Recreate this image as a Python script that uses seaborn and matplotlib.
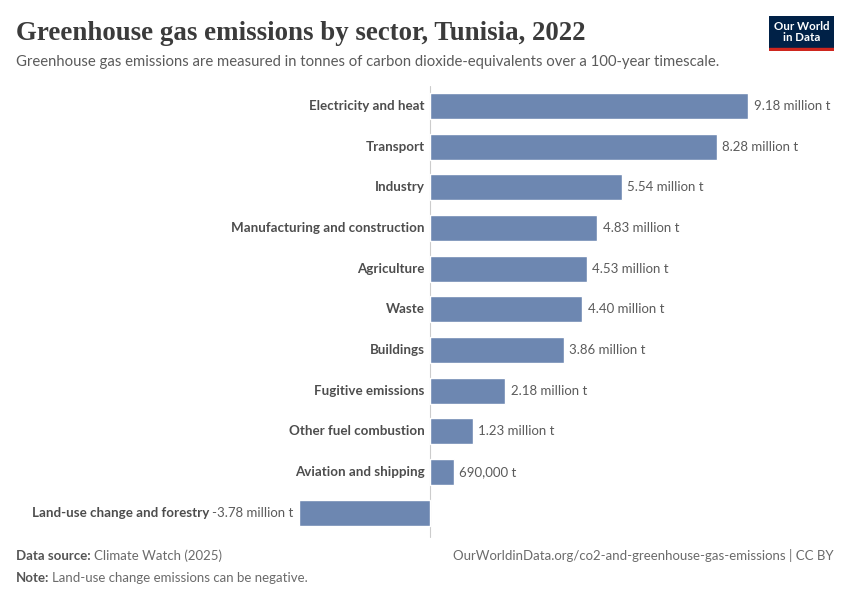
import matplotlib
matplotlib.use("Agg")
import matplotlib.pyplot as plt
import matplotlib.patches as mpatches
import seaborn as sns
import pandas as pd

# data (million tonnes CO2e)
sectors = [
    "Electricity and heat", "Transport", "Industry",
    "Manufacturing and construction", "Agriculture", "Waste",
    "Buildings", "Fugitive emissions", "Other fuel combustion",
    "Aviation and shipping", "Land-use change and forestry",
]
emissions = [9.18, 8.28, 5.54, 4.83, 4.53, 4.40, 3.86, 2.18, 1.23, 0.69, -3.78]
value_labels = [
    "9.18 million t", "8.28 million t", "5.54 million t", "4.83 million t",
    "4.53 million t", "4.40 million t", "3.86 million t", "2.18 million t",
    "1.23 million t", "690,000 t", "-3.78 million t",
]

df = pd.DataFrame({"sector": sectors, "value": emissions})

sns.set_style("white")
plt.rcParams["font.family"] = ["Lato", "DejaVu Sans"]

W, H = 850, 600
fig = plt.figure(figsize=(W / 100, H / 100), dpi=100)
# axes placed in pixel coordinates: zero at x=430, 9.18 at x=748
left_px, right_px = 299, 748
top_px, bot_px = 85.5, 533
ax = fig.add_axes([left_px / W, 1 - bot_px / H, (right_px - left_px) / W, (bot_px - top_px) / H])

bar_color = "#6d87b1"
sns.barplot(data=df, y="sector", x="value", orient="h", color=bar_color,
            width=0.64, ax=ax, saturation=1)
ax.set_xlim(min(emissions), max(emissions))
ax.set_ylim(len(sectors) - 0.5, -0.5)
ax.axis("off")
ax.axvline(0, ymin=-0.01, ymax=1.0, color="#cccccc", lw=0.8, zorder=0, clip_on=False)

label_color = "#4d4d4d"
value_color = "#5b5b5b"
fig.canvas.draw()
renderer = fig.canvas.get_renderer()
for i, (name, v, lab) in enumerate(zip(sectors, emissions, value_labels)):
    if v >= 0:
        ax.annotate(lab, (v, i), xytext=(4, 0), textcoords="offset points",
                    ha="left", va="center", fontsize=9.5, color=value_color)
        ax.annotate(name, (0, i), xytext=(-4, 0), textcoords="offset points",
                    ha="right", va="center", fontsize=9.6, fontweight="bold",
                    color=label_color)
    else:
        t = ax.annotate(lab, (v, i), xytext=(-4, 0), textcoords="offset points",
                        ha="right", va="center", fontsize=9.5, color=value_color,
                        annotation_clip=False)
        bb = t.get_window_extent(renderer)
        ax.annotate(name, (bb.x0 - 3, (bb.y0 + bb.y1) / 2), xycoords="figure pixels",
                    ha="right", va="center", fontsize=9.6, fontweight="bold",
                    color=label_color, annotation_clip=False)

# title and subtitle
fig.text(16 / W, 1 - 40 / H, "Greenhouse gas emissions by sector, Tunisia, 2022",
         fontsize=19.4, family=["Liberation Serif", "DejaVu Serif"],
         fontweight="bold", color="#3b3b3b", va="baseline")
fig.text(16 / W, 1 - 66 / H,
         "Greenhouse gas emissions are measured in tonnes of carbon dioxide-equivalents over a 100-year timescale.",
         fontsize=10.75, color="#5b5b5b", va="baseline")

# logo
logo = fig.add_axes([769 / W, 1 - 51 / H, 65 / W, 35 / H])
logo.set_xlim(0, 1)
logo.set_ylim(0, 1)
logo.axis("off")
logo.add_patch(mpatches.Rectangle((0, 0.08), 1, 0.92, color="#002147"))
logo.add_patch(mpatches.Rectangle((0, 0), 1, 0.08, color="#ce261e"))
logo.text(0.5, 0.54, "Our World\nin Data", ha="center", va="center",
          color="white", fontsize=8.3, fontweight="bold", linespacing=1.0)


# footer: bold lead-in followed by regular text
def footer_line(y_px, lead, rest):
    t = fig.text(16 / W, 1 - y_px / H, lead, fontsize=9.5, color="#555555",
                 fontweight="bold", va="baseline")
    bb = t.get_window_extent(renderer)
    fig.text((bb.x1 + 3) / W, 1 - y_px / H, rest, fontsize=9.5, color="#6b6b6b",
             va="baseline")


footer_line(560, "Data source:", "Climate Watch (2025)")
footer_line(582, "Note:", "Land-use change emissions can be negative.")
fig.text(834 / W, 1 - 560 / H,
         "OurWorldinData.org/co2-and-greenhouse-gas-emissions | CC BY",
         fontsize=9.55, color="#6b6b6b", ha="right", va="baseline")

fig.savefig("out.png", dpi=100, facecolor="white")
